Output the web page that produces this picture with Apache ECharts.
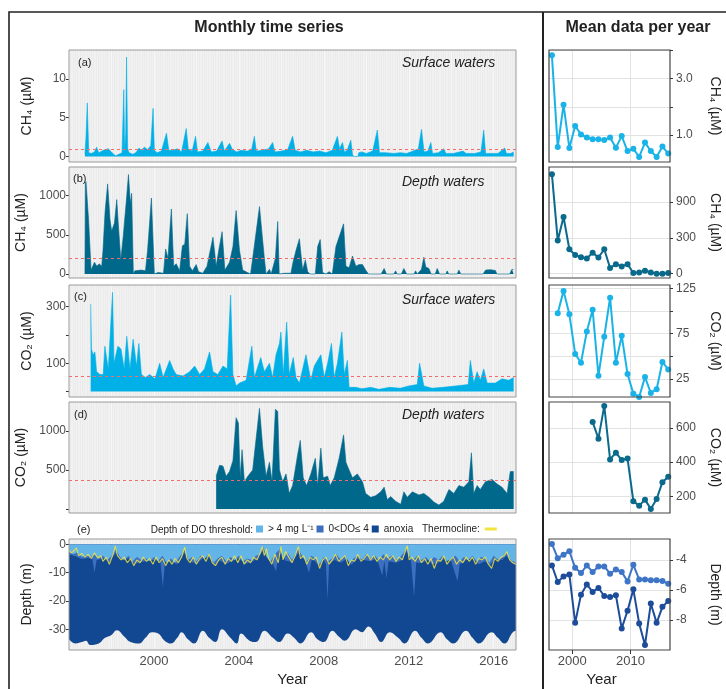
<!DOCTYPE html>
<html><head><meta charset="utf-8">
<script src="https://cdn.jsdelivr.net/npm/echarts@6/dist/echarts.min.js"></script>
<style>html,body{margin:0;padding:0;background:#fff}#c{width:726px;height:689px}</style>
</head><body><div id="c"></div>
<script>
// ---------------- DATA ----------------
// Monthly series: [decimal year, value]
const ch4Surface = [[1996.75,0.3],[1996.80,2.5],[1996.86,6.9],[1996.93,0.5],[1997.05,0.4],[1997.20,0.6],[1997.30,1.2],[1997.40,0.5],[1997.55,0.7],[1997.70,0.9],[1997.85,1.0],[1998.00,0.6],[1998.10,0.3],[1998.20,0.1],[1998.35,0.3],[1998.50,0.5],[1998.58,8.6],[1998.62,0.8],[1998.67,3.0],[1998.71,12.8],[1998.76,1.0],[1998.83,0.5],[1999.00,0.3],[1999.15,0.5],[1999.30,1.1],[1999.40,0.8],[1999.55,1.2],[1999.70,0.9],[1999.85,1.4],[1999.96,6.2],[2000.02,0.8],[2000.15,0.5],[2000.35,0.7],[2000.59,3.0],[2000.70,0.8],[2000.90,0.8],[2001.10,1.0],[2001.30,0.6],[2001.52,3.6],[2001.62,0.9],[2001.80,0.7],[2001.96,2.6],[2002.05,0.6],[2002.30,0.7],[2002.54,1.8],[2002.70,0.6],[2002.95,0.7],[2003.21,2.0],[2003.32,0.7],[2003.56,1.7],[2003.70,0.9],[2003.90,0.6],[2004.10,0.8],[2004.40,0.7],[2004.60,0.9],[2004.73,2.6],[2004.82,0.7],[2005.10,0.8],[2005.40,1.0],[2005.59,1.8],[2005.70,0.6],[2006.00,0.7],[2006.30,0.9],[2006.53,2.6],[2006.65,0.8],[2006.90,0.6],[2007.20,0.8],[2007.50,0.6],[2007.80,0.7],[2008.10,0.5],[2008.40,0.8],[2008.64,2.6],[2008.74,1.0],[2008.88,1.8],[2008.97,0.6],[2009.10,0.8],[2009.27,2.1],[2009.35,0.3],[2009.40,0.0],[2009.60,0.0],[2009.65,0.5],[2009.80,0.6],[2010.00,0.4],[2010.30,0.7],[2010.52,3.4],[2010.62,0.5],[2010.90,0.5],[2011.30,0.4],[2011.60,0.5],[2011.90,0.4],[2012.20,0.7],[2012.45,1.0],[2012.60,3.5],[2012.72,0.6],[2012.90,0.7],[2013.04,1.8],[2013.12,0.4],[2013.40,0.5],[2013.65,1.0],[2013.75,0.4],[2014.10,0.4],[2014.56,0.7],[2014.70,0.4],[2015.10,0.4],[2015.40,0.6],[2015.53,3.4],[2015.62,0.4],[2015.90,0.4],[2016.20,0.4],[2016.52,1.1],[2016.60,0.4],[2016.80,0.4],[2016.94,0.6]];

const ch4Depth = [[1996.75,0],[1996.77,1150],[1996.80,1180],[1996.92,700],[1997.04,50],[1997.20,150],[1997.31,100],[1997.42,130],[1997.54,100],[1997.60,300],[1997.70,800],[1997.82,1150],[1997.93,700],[1998.01,550],[1998.14,650],[1998.25,950],[1998.33,600],[1998.44,180],[1998.56,500],[1998.72,1000],[1998.80,1270],[1998.89,900],[1998.95,1030],[1999.03,0],[1999.10,40],[1999.40,50],[1999.60,40],[1999.70,300],[1999.88,970],[2000.02,0],[2000.20,20],[2000.45,10],[2000.55,320],[2000.66,200],[2000.82,830],[2000.93,100],[2001.05,130],[2001.21,40],[2001.34,360],[2001.45,380],[2001.57,770],[2001.68,100],[2001.81,40],[2001.99,120],[2002.10,30],[2002.30,10],[2002.50,100],[2002.65,300],[2002.78,470],[2002.93,100],[2003.05,300],[2003.21,540],[2003.34,50],[2003.56,150],[2003.72,350],[2003.87,810],[2004.03,300],[2004.18,50],[2004.40,20],[2004.55,0],[2004.65,200],[2004.97,860],[2005.20,200],[2005.28,0],[2005.44,60],[2005.52,0],[2005.72,200],[2005.83,670],[2005.90,0],[2006.15,10],[2006.45,10],[2006.55,150],[2006.69,300],[2006.85,450],[2007.00,50],[2007.13,180],[2007.24,30],[2007.35,0],[2007.60,0],[2007.71,350],[2007.83,440],[2007.94,20],[2008.10,0],[2008.25,30],[2008.40,0],[2008.57,350],[2008.93,640],[2009.04,100],[2009.19,80],[2009.35,230],[2009.51,100],[2009.66,120],[2009.82,120],[2009.97,50],[2010.10,0],[2010.70,0],[2010.84,70],[2010.95,0],[2011.30,0],[2011.38,40],[2011.45,0],[2011.65,0],[2011.77,70],[2011.90,0],[2012.25,0],[2012.32,40],[2012.40,0],[2012.60,60],[2012.71,215],[2012.80,90],[2012.95,70],[2013.05,0],[2013.25,0],[2013.34,70],[2013.45,0],[2013.75,0],[2013.81,40],[2013.88,0],[2014.28,0],[2014.36,50],[2014.45,0],[2015.50,0],[2015.62,50],[2015.85,55],[2016.08,45],[2016.15,0],[2016.75,0],[2016.86,60],[2016.94,55]];

const co2Surface = [[1997.02,309],[1997.06,150],[1997.13,130],[1997.22,140],[1997.30,70],[1997.46,60],[1997.61,60],[1997.69,160],[1997.85,80],[1998.05,350],[1998.12,100],[1998.30,160],[1998.45,150],[1998.60,80],[1998.72,195],[1998.87,80],[1999.02,185],[1999.18,90],[1999.29,170],[1999.41,60],[1999.60,50],[1999.80,60],[2000.05,45],[2000.27,100],[2000.43,50],[2000.74,110],[2000.90,80],[2001.05,60],[2001.37,55],[2001.68,70],[2001.92,90],[2002.15,60],[2002.38,80],[2002.62,140],[2002.78,70],[2003.01,60],[2003.25,90],[2003.45,80],[2003.61,340],[2003.72,60],[2003.87,20],[2004.03,30],[2004.34,40],[2004.61,160],[2004.73,50],[2005.03,120],[2005.20,70],[2005.44,100],[2005.59,50],[2005.75,130],[2005.91,170],[2005.98,210],[2006.09,60],[2006.25,245],[2006.37,60],[2006.56,120],[2006.69,50],[2006.85,30],[2007.16,130],[2007.39,40],[2007.55,90],[2007.86,130],[2008.02,50],[2008.18,100],[2008.36,170],[2008.49,50],[2008.64,100],[2008.85,210],[2008.96,60],[2009.11,110],[2009.19,15],[2009.50,15],[2009.80,10],[2010.20,15],[2010.60,8],[2011.10,15],[2011.60,12],[2012.00,20],[2012.40,25],[2012.51,100],[2012.71,20],[2013.10,12],[2013.60,15],[2014.20,20],[2014.80,25],[2014.90,110],[2015.06,30],[2015.22,70],[2015.37,40],[2015.53,80],[2015.69,30],[2016.08,30],[2016.39,45],[2016.70,40],[2016.94,50]];

const co2Depth = [[2002.93,420],[2003.09,560],[2003.25,550],[2003.40,420],[2003.56,480],[2003.72,620],[2003.87,1170],[2003.98,1100],[2004.06,400],[2004.15,760],[2004.26,350],[2004.42,420],[2004.65,500],[2004.81,900],[2004.97,1290],[2005.12,800],[2005.28,420],[2005.44,600],[2005.56,350],[2005.72,1280],[2005.83,1250],[2005.91,500],[2006.06,350],[2006.22,450],[2006.37,200],[2006.53,300],[2006.77,700],[2006.89,880],[2007.03,400],[2007.19,300],[2007.39,450],[2007.60,650],[2007.71,300],[2007.86,780],[2007.97,400],[2008.18,420],[2008.30,300],[2008.49,400],[2008.72,650],[2008.93,950],[2009.04,600],[2009.19,500],[2009.35,400],[2009.58,450],[2009.82,350],[2009.97,200],[2010.21,150],[2010.44,170],[2010.68,220],[2010.84,280],[2010.99,120],[2011.15,160],[2011.38,100],[2011.62,60],[2011.77,220],[2011.93,150],[2012.17,220],[2012.48,180],[2012.71,200],[2012.95,150],[2013.18,90],[2013.42,50],[2013.65,100],[2013.89,250],[2014.12,200],[2014.36,300],[2014.59,280],[2014.83,350],[2014.95,720],[2015.06,200],[2015.22,300],[2015.37,250],[2015.61,350],[2015.92,380],[2016.16,320],[2016.39,280],[2016.63,200],[2016.78,480],[2016.94,480]];

// reference (red dashed) levels
const ch4SurfaceRef = 0.9, ch4DepthRef = 200, co2SurfaceRef = 55, co2DepthRef = 370;

// Panel (e): depths (m)
const lakeBottom = [[1996.0,-33.5],[1996.3,-35],[1996.6,-34.5],[1996.8,-34],[1997.0,-35.5],[1997.4,-35],[1997.7,-33],[1998.0,-32],[1998.25,-30.3],[1998.6,-32.5],[1998.9,-34.5],[1999.3,-35],[1999.6,-33],[1999.9,-31],[2000.2,-31.5],[2000.5,-34],[2000.8,-35],[2001.1,-33],[2001.3,-31],[2001.6,-33.5],[2001.9,-35],[2002.3,-30.5],[2002.6,-33],[2002.9,-34.5],[2003.2,-30],[2003.6,-33],[2003.9,-35],[2004.1,-31.5],[2004.5,-34],[2004.8,-34.5],[2005.2,-30.5],[2005.6,-33],[2005.9,-34.5],[2006.3,-31.5],[2006.6,-33],[2006.9,-35],[2007.4,-31],[2007.7,-33.5],[2008.0,-34.5],[2008.4,-30.5],[2008.7,-32.5],[2009.0,-34],[2009.5,-30],[2009.8,-31],[2010.1,-29],[2010.4,-31.5],[2010.7,-34.5],[2011.1,-31],[2011.5,-33],[2011.8,-35],[2012.3,-30.5],[2012.6,-33],[2012.9,-35],[2013.5,-31],[2013.8,-33.5],[2014.1,-35],[2014.7,-30.5],[2015.0,-33],[2015.3,-35],[2015.9,-31],[2016.2,-33],[2016.5,-35],[2016.9,-31],[2017.05,-30.5]];

const anoxiaTop = [[1996.0,-3.5],[1996.3,-4.2],[1996.6,-5.2],[1996.9,-4.8],[1997.1,-5.2],[1997.2,-10],[1997.3,-5.5],[1997.6,-5.0],[1997.9,-6.2],[1998.2,-3.0],[1998.5,-5.5],[1998.8,-5.0],[1999.1,-6.8],[1999.4,-6.2],[1999.7,-5.8],[2000.0,-5.5],[2000.3,-6.0],[2000.42,-15],[2000.52,-6.5],[2000.8,-6.0],[2001.1,-7.0],[2001.45,-3.0],[2001.7,-6.0],[2002.0,-6.8],[2002.3,-5.0],[2002.6,-4.5],[2002.85,-7.2],[2003.1,-5.8],[2003.4,-6.8],[2003.7,-5.8],[2004.0,-5.0],[2004.3,-6.8],[2004.6,-6.2],[2004.9,-5.0],[2005.15,-2.0],[2005.4,-5.5],[2005.6,-6.8],[2005.75,-9.5],[2005.85,-4.5],[2006.0,-3.0],[2006.2,-5.8],[2006.5,-6.2],[2006.8,-3.0],[2007.1,-5.5],[2007.3,-10],[2007.45,-5.0],[2007.8,-7.8],[2008.0,-5.5],[2008.1,-7],[2008.17,-19.5],[2008.25,-7],[2008.5,-5.5],[2008.8,-6.5],[2009.1,-5.0],[2009.3,-7.2],[2009.6,-5.0],[2009.9,-5.5],[2010.2,-6.0],[2010.5,-5.0],[2010.75,-11],[2010.85,-6],[2010.95,-12],[2011.05,-6],[2011.4,-6.5],[2011.7,-5.5],[2011.9,-2.5],[2012.1,-5.5],[2012.25,-18.5],[2012.35,-6.5],[2012.6,-6.5],[2012.9,-5.5],[2013.1,-7.0],[2013.4,-6.5],[2013.7,-5.0],[2014.0,-6.0],[2014.3,-13],[2014.4,-7.0],[2014.7,-5.5],[2015.0,-5.0],[2015.3,-7.0],[2015.6,-6.0],[2015.8,-7.5],[2016.1,-5.0],[2016.4,-5.5],[2016.6,-4.0],[2016.85,-6.5],[2017.05,-7.5]];

const do4Depth = [[1996.0,-2.5],[1996.2,-3.5],[1996.4,-2.8],[1996.6,-4.5],[1996.8,-3.8],[1997.0,-4.5],[1997.2,-3.5],[1997.4,-5.0],[1997.6,-4.0],[1997.8,-5.5],[1998.0,-4.2],[1998.2,-1.5],[1998.4,-4.5],[1998.6,-5.5],[1998.8,-4.0],[1999.0,-6.0],[1999.2,-4.5],[1999.4,-5.5],[1999.6,-4.8],[1999.8,-6.0],[2000.0,-4.5],[2000.2,-5.8],[2000.4,-4.0],[2000.6,-6.5],[2000.8,-5.0],[2001.0,-6.5],[2001.2,-4.5],[2001.45,-2.0],[2001.6,-5.5],[2001.8,-4.5],[2002.0,-6.0],[2002.2,-4.0],[2002.4,-5.0],[2002.6,-3.5],[2002.8,-6.5],[2003.0,-5.0],[2003.2,-4.0],[2003.4,-6.0],[2003.6,-4.5],[2003.8,-5.5],[2004.0,-4.0],[2004.2,-6.0],[2004.4,-5.0],[2004.6,-5.5],[2004.8,-4.0],[2005.0,-3.5],[2005.15,-1.0],[2005.3,-4.5],[2005.5,-6.0],[2005.75,-3.0],[2005.95,-1.5],[2006.1,-5.0],[2006.3,-3.0],[2006.5,-5.5],[2006.8,-1.5],[2007.0,-4.5],[2007.2,-6.0],[2007.4,-4.0],[2007.6,-5.0],[2007.8,-7.0],[2008.0,-4.5],[2008.2,-6.0],[2008.4,-5.0],[2008.6,-3.5],[2008.8,-5.5],[2009.0,-4.0],[2009.2,-6.5],[2009.4,-5.0],[2009.6,-4.0],[2009.8,-5.5],[2010.0,-3.5],[2010.2,-5.0],[2010.4,-4.0],[2010.6,-5.5],[2010.8,-3.5],[2011.0,-5.0],[2011.2,-4.0],[2011.4,-5.5],[2011.6,-4.5],[2011.9,-1.5],[2012.05,-4.5],[2012.2,-5.5],[2012.4,-4.0],[2012.6,-5.5],[2012.8,-4.5],[2013.0,-6.0],[2013.2,-4.5],[2013.4,-5.5],[2013.6,-4.0],[2013.8,-6.0],[2014.0,-5.0],[2014.2,-4.0],[2014.4,-6.0],[2014.6,-4.5],[2014.8,-5.5],[2015.0,-4.0],[2015.2,-6.0],[2015.4,-4.5],[2015.6,-5.0],[2015.8,-6.5],[2016.0,-4.0],[2016.2,-5.5],[2016.4,-4.5],[2016.6,-3.0],[2016.8,-5.5],[2017.05,-6.5]];

const thermocline = [[1996.0,-2.0],[1996.1,-3.0],[1996.2,-2.5],[1996.35,-1.2],[1996.45,-4.0],[1996.6,-3.2],[1996.75,-4.5],[1996.9,-3.5],[1997.05,-5.0],[1997.2,-3.0],[1997.35,-4.8],[1997.5,-4.0],[1997.6,-6.0],[1997.75,-4.5],[1997.9,-7.0],[1998.0,-5.0],[1998.1,-3.0],[1998.18,-0.5],[1998.28,-4.0],[1998.45,-5.5],[1998.6,-4.5],[1998.75,-6.5],[1998.9,-5.0],[1999.05,-7.5],[1999.2,-5.5],[1999.35,-6.5],[1999.5,-4.5],[1999.65,-6.0],[1999.8,-5.0],[1999.95,-7.0],[2000.1,-4.5],[2000.25,-6.5],[2000.4,-5.0],[2000.55,-7.5],[2000.7,-5.5],[2000.85,-7.0],[2001.0,-5.0],[2001.15,-6.5],[2001.3,-4.5],[2001.45,-1.0],[2001.55,-5.0],[2001.7,-6.5],[2001.85,-4.5],[2002.0,-7.0],[2002.15,-5.0],[2002.3,-4.0],[2002.45,-6.0],[2002.6,-3.5],[2002.75,-6.5],[2002.9,-7.5],[2003.05,-5.5],[2003.2,-4.5],[2003.35,-7.0],[2003.5,-5.0],[2003.65,-6.0],[2003.8,-4.0],[2003.95,-6.5],[2004.1,-4.0],[2004.25,-7.0],[2004.4,-5.5],[2004.55,-6.5],[2004.7,-4.5],[2004.85,-5.5],[2005.0,-3.0],[2005.1,-0.8],[2005.2,-4.0],[2005.3,-1.5],[2005.4,-5.0],[2005.55,-7.0],[2005.7,-3.5],[2005.85,-6.5],[2005.98,-0.8],[2006.08,-5.5],[2006.2,-2.5],[2006.35,-4.5],[2006.5,-6.5],[2006.65,-4.0],[2006.8,-0.8],[2006.9,-5.0],[2007.05,-4.0],[2007.2,-7.0],[2007.35,-4.5],[2007.5,-5.5],[2007.65,-4.5],[2007.8,-8.5],[2007.95,-5.5],[2008.1,-4.5],[2008.25,-7.0],[2008.4,-5.5],[2008.55,-3.5],[2008.7,-6.0],[2008.85,-5.0],[2009.0,-4.0],[2009.15,-7.5],[2009.3,-5.5],[2009.45,-6.0],[2009.6,-3.5],[2009.75,-6.0],[2009.9,-5.0],[2010.05,-3.5],[2010.2,-5.5],[2010.35,-4.0],[2010.5,-6.0],[2010.65,-4.5],[2010.8,-5.5],[2010.95,-3.5],[2011.1,-5.5],[2011.25,-4.0],[2011.4,-6.0],[2011.55,-4.5],[2011.7,-5.5],[2011.85,-2.0],[2011.93,-0.5],[2012.02,-5.5],[2012.15,-4.5],[2012.3,-6.0],[2012.45,-4.0],[2012.6,-6.5],[2012.75,-5.0],[2012.9,-7.0],[2013.05,-5.0],[2013.2,-8.5],[2013.35,-5.5],[2013.5,-6.0],[2013.65,-4.0],[2013.8,-7.0],[2013.95,-5.5],[2014.1,-4.5],[2014.25,-7.0],[2014.4,-5.5],[2014.55,-6.5],[2014.7,-4.5],[2014.85,-6.0],[2015.0,-4.5],[2015.15,-7.0],[2015.3,-5.0],[2015.45,-5.5],[2015.6,-4.5],[2015.75,-7.0],[2015.9,-8.5],[2016.05,-5.0],[2016.2,-6.0],[2016.35,-4.5],[2016.5,-4.0],[2016.62,-2.5],[2016.75,-5.5],[2016.9,-6.5],[2017.05,-7.0]];

// Annual means
const years = [1996,1997,1998,1999,2000,2001,2002,2003,2004,2005,2006,2007,2008,2009,2010,2011,2012,2013,2014,2015,2016];
const ch4SurfaceMean = [3.83,0.57,2.07,0.54,1.32,1.02,0.91,0.85,0.85,0.82,0.91,0.55,0.96,0.43,0.51,0.22,0.73,0.43,0.22,0.59,0.34];
const ch4DepthMean = [832,278,474,204,157,138,127,176,135,204,47,80,61,80,6,11,25,11,0,0,6];
const co2SurfaceMean = [null,97.5,122.3,96.4,52.5,42.9,77.3,101.3,28.4,71.6,114.7,42.9,72.7,30.3,8.6,5.0,26.9,9.4,13.5,43.7,35.3];
const co2DepthMean = [null,null,null,null,null,null,null,634,537,728,416,455,412,421,172,146,181,127,185,283,314];
const do4MeanDepth = [-2.95,-3.89,-3.67,-3.43,-4.53,-4.88,-4.37,-4.81,-4.44,-4.44,-4.92,-4.64,-4.81,-5.43,-4.33,-5.30,-5.30,-5.36,-5.36,-5.41,-5.58];
const anoxiaMeanDepth = [-4.37,-5.47,-5.10,-4.97,-8.18,-6.31,-5.63,-6.13,-5.87,-6.40,-6.46,-6.35,-8.55,-7.38,-5.96,-8.22,-9.65,-6.90,-8.18,-7.12,-6.73];

// tick labels
const leftYearTicks = [1996,1998,2000,2002,2004,2006,2008,2010,2012,2014,2016];
const leftYearLabels = [2000,2004,2008,2012,2016];
const rightYearLabels = [2000,2010];
const ch4DepthMeanTicks = [0,300,600];
const ch4DepthMeanTickText = ['0','300','900'];

// ---------------- LAYOUT / STYLE ----------------
const FONT = "'Liberation Sans', Arial, Helvetica, sans-serif";
const LX = 69, LW = 447, RX = 549, RW = 121;
const TOPS = [50, 167, 285, 402, 539];
const HS = [112, 111, 112, 111, 111];
const C_SURF = '#00b0e6', C_DEEP = '#00688b';
const C_LIGHT = '#64b5e7', C_MED = '#3c6fbf', C_DARK = '#124891', C_THERMO = '#f2e43c';
const plain = v => String(v);

const grids = [];
for (let i = 0; i < 5; i++) grids.push({left: LX, top: TOPS[i], width: LW, height: HS[i], show: true, backgroundColor: '#ebebeb', borderWidth: 0});
for (let i = 0; i < 5; i++) grids.push({left: RX, top: TOPS[i], width: RW, height: HS[i], show: true, backgroundColor: '#ffffff', borderWidth: 0});

const xAxes = [];
for (let i = 0; i < 5; i++) {
  const last = i === 4;
  xAxes.push({type: 'value', gridIndex: i, min: 1996, max: 2017.05, interval: 2,
    axisLine: {show: false},
    axisTick: {show: last, length: 4, lineStyle: {color: '#333'}, customValues: leftYearTicks},
    axisLabel: {show: last, color: '#4d4d4d', fontSize: 13, margin: 5, customValues: leftYearLabels, formatter: plain},
    splitLine: {show: true, lineStyle: {color: '#f8f8f8', width: 0.9}},
    minorTick: {show: false, splitNumber: 24},
    minorSplitLine: {show: true, lineStyle: {color: '#f6f6f6', width: 0.5}},
    name: last ? 'Year' : '', nameLocation: 'middle', nameGap: 22,
    nameTextStyle: {fontSize: 15, color: '#222'}});
}
for (let i = 0; i < 5; i++) {
  const last = i === 4;
  xAxes.push({type: 'value', gridIndex: 5 + i, min: 1996, max: 2016.8, interval: 1,
    axisLine: {show: false},
    axisTick: {show: last, length: 4, lineStyle: {color: '#333'}, customValues: rightYearLabels},
    axisLabel: {show: last, color: '#4d4d4d', fontSize: 13, margin: 5, customValues: rightYearLabels, formatter: plain},
    splitLine: {show: true, lineStyle: {color: '#e2e2e2', width: 1}},
    name: last ? 'Year' : '', nameLocation: 'middle', nameGap: 22,
    nameTextStyle: {fontSize: 15, color: '#222', padding: [0, 16, 0, 0]}});
}

function leftY(i, min, max, ticks, labels, name) {
  return {type: 'value', gridIndex: i, min, max,
    axisLine: {show: false}, splitLine: {show: false},
    axisTick: {show: true, length: 3, lineStyle: {color: '#333'}, customValues: ticks},
    axisLabel: {color: '#4d4d4d', fontSize: 12, margin: 3, customValues: labels, formatter: plain},
    name, nameLocation: 'middle', nameRotate: 90, nameGap: 35,
    nameTextStyle: {fontSize: 14, color: '#222'}};
}
function rightY(i, min, max, step, ticks, labels, fmt, name) {
  return {type: 'value', gridIndex: 5 + i, position: 'right', min, max, minInterval: step, maxInterval: step,
    axisLine: {show: false},
    splitLine: {show: true, lineStyle: {color: '#e2e2e2', width: 1}},
    axisTick: {show: true, length: 3, lineStyle: {color: '#333'}, customValues: ticks},
    axisLabel: {color: '#4d4d4d', fontSize: 12, margin: 6, customValues: labels, formatter: fmt},
    name, nameLocation: 'middle', nameRotate: -90, nameGap: 38,
    nameTextStyle: {fontSize: 14, color: '#222'}};
}
const yAxes = [
  leftY(0, -0.7, 13.7, [0,5,10], [0,5,10], 'CH₄ (µM)'),
  leftY(1, -51, 1366, [0,500,1000], [0,500,1000], 'CH₄ (µM)'),
  leftY(2, -19, 376, [0,100,200,300], [100,300], 'CO₂ (µM)'),
  leftY(3, -51, 1372, [0,500,1000], [500,1000], 'CO₂ (µM)'),
  leftY(4, -37.3, 1.9, [0,-10,-20,-30], [0,-10,-20,-30], 'Depth (m)'),
  rightY(0, 0.04, 4.02, 0.5, [1,2,3,4], [1,3], v => v.toFixed(1), 'CH₄ (µM)'),
  rightY(1, -36, 892, 150, ch4DepthMeanTicks, ch4DepthMeanTicks, v => ch4DepthMeanTickText[ch4DepthMeanTicks.indexOf(v)], 'CH₄ (µM)'),
  rightY(2, 4.9, 128.8, 12.5, [25,50,75,100,125], [25,75,125], plain, 'CO₂ (µM)'),
  rightY(3, 103, 751, 100, [200,400,600], [200,400,600], plain, 'CO₂ (µM)'),
  rightY(4, -9.98, -2.62, 1, [-4,-6,-8], [-4,-6,-8], plain, 'Depth (m)')
];

function areaSeries(i, data, color, ref) {
  return {type: 'line', xAxisIndex: i, yAxisIndex: i, data, symbol: 'none', z: 3,
    lineStyle: {width: 0.6, color}, itemStyle: {color}, areaStyle: {color, opacity: 1},
    markLine: {silent: true, symbol: 'none', label: {show: false},
      lineStyle: {color: '#f36c6c', type: [3, 3], width: 1}, data: [{yAxis: ref}]}};
}
function meanSeries(i, vals, color) {
  const d = [];
  years.forEach((y, k) => { if (vals[k] !== null) d.push([y + 0.5, vals[k]]); });
  return {type: 'line', xAxisIndex: 5 + i, yAxisIndex: 5 + i, data: d, symbol: 'circle', symbolSize: 6,
    lineStyle: {width: 2, color}, itemStyle: {color}, z: 3};
}

const series = [
  areaSeries(0, ch4Surface, C_SURF, ch4SurfaceRef),
  areaSeries(1, ch4Depth, C_DEEP, ch4DepthRef),
  areaSeries(2, co2Surface, C_SURF, co2SurfaceRef),
  areaSeries(3, co2Depth, C_DEEP, co2DepthRef),
  {name: 'anoxia', type: 'line', xAxisIndex: 4, yAxisIndex: 4, data: lakeBottom, symbol: 'none', z: 2, smooth: 0.45,
    lineStyle: {width: 0}, itemStyle: {color: C_DARK}, areaStyle: {color: C_DARK, opacity: 1, origin: 'auto'}},
  {name: '0<DO≤ 4', type: 'line', xAxisIndex: 4, yAxisIndex: 4, data: anoxiaTop, symbol: 'none', z: 3,
    lineStyle: {width: 0}, itemStyle: {color: C_MED}, areaStyle: {color: C_MED, opacity: 1, origin: 'auto'}},
  {name: '> 4 mg L⁻¹', type: 'line', xAxisIndex: 4, yAxisIndex: 4, data: do4Depth, symbol: 'none', z: 4,
    lineStyle: {width: 0}, itemStyle: {color: C_LIGHT}, areaStyle: {color: C_LIGHT, opacity: 1, origin: 'auto'}},
  {name: 'Thermocline:', type: 'line', xAxisIndex: 4, yAxisIndex: 4, data: thermocline, symbol: 'none', z: 5,
    lineStyle: {width: 1.1, color: C_THERMO, opacity: 0.85}, itemStyle: {color: C_THERMO}},
  meanSeries(0, ch4SurfaceMean, '#1ab3e8'),
  meanSeries(1, ch4DepthMean, '#0a6a8c'),
  meanSeries(2, co2SurfaceMean, '#1ab3e8'),
  meanSeries(3, co2DepthMean, '#0a6a8c'),
  meanSeries(4, do4MeanDepth, '#3e75c6'),
  meanSeries(4, anoxiaMeanDepth, '#1d4c9a')
];

// ---------------- DECORATION (frame, titles, panel labels) ----------------
const txt = (text, x, y, font, align) => ({type: 'text', x, y, z: 100,
  style: {text, fill: '#222', font: font + ' ' + FONT, align: align || 'left', verticalAlign: 'middle'}});
const graphics = [
  {type: 'rect', z: 100, shape: {x: 9, y: 12, width: 760, height: 720}, style: {fill: 'none', stroke: '#222', lineWidth: 1.6}},
  {type: 'line', z: 100, shape: {x1: 543, y1: 12, x2: 543, y2: 720}, style: {stroke: '#222', lineWidth: 2}},
  txt('Monthly time series', 269, 28, 'bold 16px', 'center'),
  txt('Mean data per year', 638, 28, 'bold 16px', 'center'),
  txt('(a)', 78, 63, '11px'), txt('(b)', 73, 179, '11px'), txt('(c)', 74, 297, '11px'), txt('(d)', 74, 415, '11px'), txt('(e)', 77, 530, '11px'),
  txt('Surface waters', 402, 63, 'italic 14px'), txt('Depth waters', 402, 182, 'italic 14px'),
  txt('Surface waters', 402, 300, 'italic 14px'), txt('Depth waters', 402, 415, 'italic 14px'),
  txt('Depth of DO threshold:', 253, 530, '10px', 'right')
];
for (let i = 0; i < 5; i++) {
  graphics.push({type: 'rect', z: 100, shape: {x: LX, y: TOPS[i], width: LW, height: HS[i]}, style: {fill: 'none', stroke: '#9a9a9a', lineWidth: 1}});
  graphics.push({type: 'rect', z: 100, shape: {x: RX, y: TOPS[i], width: RW, height: HS[i]}, style: {fill: 'none', stroke: '#444', lineWidth: 1.2}});
}

const chart = echarts.init(document.getElementById('c'), null, {renderer: 'canvas'});
chart.setOption({
  animation: false,
  backgroundColor: '#ffffff',
  textStyle: {fontFamily: FONT},
  grid: grids, xAxis: xAxes, yAxis: yAxes, series,
  legend: [
    {data: ['> 4 mg L⁻¹', '0<DO≤ 4', 'anoxia'], left: 256, top: 524, padding: 0, itemWidth: 7, itemHeight: 7, itemGap: 3,
      icon: 'rect', selectedMode: false, textStyle: {fontSize: 10, color: '#222'}},
    {data: [{name: 'Thermocline:', icon: 'rect'}], left: 422, top: 524, padding: 0, align: 'right', itemWidth: 12, itemHeight: 3,
      selectedMode: false, textStyle: {fontSize: 10, color: '#222'}}
  ],
  graphic: graphics
});
</script></body></html>
